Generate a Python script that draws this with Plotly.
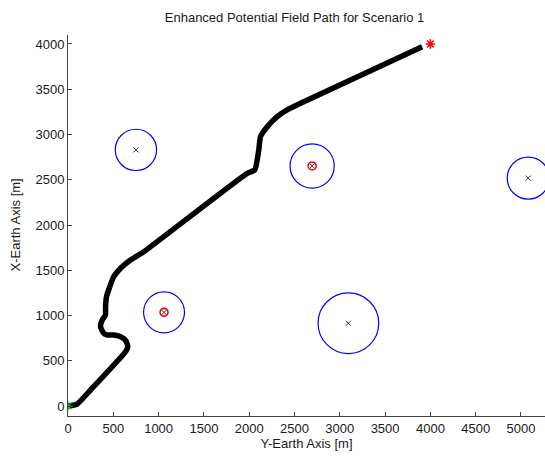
import plotly.graph_objects as go

# Path of the vehicle (Y-Earth, X-Earth) in metres
path_y = [0, 100, 248, 635, 660, 640, 580, 505, 433, 395, 359, 377, 414, 414, 425, 461,
          505, 580, 690, 837, 1978, 2062, 2088, 2106, 2125, 2199, 2309, 2419, 2603, 3909]
path_x = [0, 22, 177, 600, 655, 720, 766, 785, 785, 803, 876, 950, 1006, 1080, 1208, 1318,
          1429, 1522, 1613, 1705, 2571, 2608, 2718, 2829, 2976, 3086, 3197, 3271, 3362, 3970]

# Obstacles: centre (Y, X) and radius in metres
obs_y = [750, 1060, 3095, 2695, 5080]
obs_x = [2830, 1035, 915, 2652, 2518]
obs_r = [228, 226, 335, 244, 232]
# Obstacles flagged with a red ring
flag_y = [1060, 2695]
flag_x = [1035, 2652]

start_y, start_x = [0], [0]
goal_y, goal_x = [4000], [4000]

x_ticks = [0, 500, 1000, 1500, 2000, 2500, 3000, 3500, 4000, 4500, 5000]
y_ticks = [0, 500, 1000, 1500, 2000, 2500, 3000, 3500, 4000]

FONT = "Liberation Sans, Arial, sans-serif"
TXT = "#1a1a1a"
W, H = 545, 457
ML, MR, MT, MB = 68, 0, 35, 41

fig = go.Figure()

fig.add_trace(go.Scatter(x=path_y, y=path_x, mode="lines",
                         line=dict(color="black", width=5.5, shape="spline", smoothing=0.5),
                         hoverinfo="skip"))
fig.add_trace(go.Scatter(x=start_y, y=start_x, mode="markers",
                         marker=dict(symbol="asterisk-open", size=8, color="#00cc00",
                                     line=dict(color="#00cc00", width=1.2))))
fig.add_trace(go.Scatter(x=goal_y, y=goal_x, mode="markers",
                         marker=dict(symbol="asterisk-open", size=8, color="red",
                                     line=dict(color="red", width=1.5))))
fig.add_trace(go.Scatter(x=flag_y, y=flag_x, mode="markers",
                         marker=dict(symbol="circle-open", size=8, color="red",
                                     line=dict(color="red", width=1.6))))
fig.add_trace(go.Scatter(x=obs_y, y=obs_x, mode="markers",
                         marker=dict(symbol="x-thin", size=5, color="#333333",
                                     line=dict(color="#333333", width=1))))

for cy, cx, r in zip(obs_y, obs_x, obs_r):
    fig.add_shape(type="circle", xref="x", yref="y",
                  x0=cy - r, x1=cy + r, y0=cx - r, y1=cx + r,
                  line=dict(color="#0000ff", width=1.2))

axis_common = dict(showgrid=False, zeroline=False, showline=True, linecolor="#444444",
                   linewidth=1, ticks="inside", ticklen=4, tickcolor="#444444",
                   tickfont=dict(family=FONT, size=13, color=TXT), mirror=False)

# Vertical axis title placed 15 px from the left edge of the page
fig.add_annotation(text="X-Earth Axis [m]", textangle=-90, showarrow=False,
                   xref="paper", yref="paper",
                   x=(15 - ML) / (W - ML - MR), y=0.5, xanchor="center", yanchor="middle",
                   font=dict(family=FONT, size=13, color=TXT))

fig.update_layout(
    width=W, height=H,
    margin=dict(l=ML, r=MR, t=MT, b=MB),
    paper_bgcolor="white", plot_bgcolor="white",
    showlegend=False,
    title=dict(text="Enhanced Potential Field Path for Scenario 1",
               font=dict(family=FONT, size=13, color=TXT),
               x=294.5 / W, xanchor="center", y=1 - 17 / H, yanchor="middle"),
    xaxis=dict(range=[0, 5265], tickvals=x_ticks,
               title=dict(text="Y-Earth Axis [m]", font=dict(family=FONT, size=13, color=TXT),
                          standoff=2),
               **axis_common),
    yaxis=dict(range=[-110, 4099], tickvals=y_ticks, **axis_common),
)

fig.write_html("out.html")
